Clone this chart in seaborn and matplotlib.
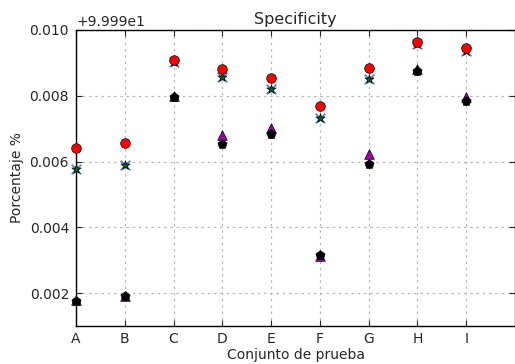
import matplotlib
matplotlib.use("Agg")
import matplotlib.pyplot as plt
import matplotlib.ticker as mticker
import seaborn as sns
import pandas as pd

# Datos (offset 99.99)
conjuntos = ["A", "B", "C", "D", "E", "F", "G", "H", "I"]
base = 99.99
serie_circulo = [0.00640, 0.00655, 0.00910, 0.00882, 0.00855, 0.00768, 0.00885, 0.00965, 0.00945]
serie_x = [0.00578, 0.00588, 0.00903, 0.00858, 0.00820, 0.00733, 0.00850, 0.00958, 0.00935]
serie_estrella = [0.00578, 0.00588, 0.00903, 0.00858, 0.00820, 0.00733, 0.00850, 0.00958, 0.00935]
serie_triangulo = [0.00180, 0.00192, 0.00800, 0.00680, 0.00703, 0.00312, 0.00622, 0.00880, 0.00797]
serie_pentagono = [0.00175, 0.00190, 0.00795, 0.00652, 0.00683, 0.00315, 0.00592, 0.00875, 0.00783]

df = pd.DataFrame({
    "x": range(len(conjuntos)),
    "circulo": [base + v for v in serie_circulo],
    "cruz": [base + v for v in serie_x],
    "estrella": [base + v for v in serie_estrella],
    "triangulo": [base + v for v in serie_triangulo],
    "pentagono": [base + v for v in serie_pentagono],
})

sns.set_style("white")
plt.rcParams["font.family"] = ["DejaVu Sans"]

fig = plt.figure(figsize=(5.15, 3.64), dpi=100)
ax = fig.add_axes([0.1476, 0.1044, 0.8524, 0.8132])

estilos = [
    ("cruz", "x", "#4a78e0", 1.2),
    ("estrella", "*", "#0b5e1a", 0.5),
    ("triangulo", "^", "#a000a8", 0.5),
    ("pentagono", "p", "black", 0.5),
    ("circulo", "o", "red", 0.5),
]
for col, m, c, lw in estilos:
    sns.scatterplot(data=df, x="x", y=col, marker=m, color=c, s=48,
                    edgecolor="black" if m != "x" else None, linewidth=lw,
                    ax=ax, zorder=3, clip_on=False)

ax.set_xlim(0, 9)
ax.set_ylim(base + 0.001, base + 0.010)
ax.set_xticks(range(len(conjuntos)))
ax.set_xticklabels(conjuntos)
ax.set_yticks([base + v for v in [0.002, 0.004, 0.006, 0.008, 0.010]])
fmt = mticker.ScalarFormatter(useOffset=base)
ax.yaxis.set_major_formatter(fmt)

ax.grid(True, color="#b8b8b8", linestyle=(0, (2, 3)), linewidth=0.9)
ax.set_axisbelow(True)
ax.tick_params(axis="x", direction="in", length=4, labelsize=10, pad=4,
               top=True, bottom=True)
ax.tick_params(axis="y", direction="in", length=4, labelsize=10, pad=5,
               left=True, right=True)
for s in ax.spines.values():
    s.set_color("black")
    s.set_linewidth(1.0)

ax.set_title("Specificity", fontsize=11.5, pad=4)
ax.set_xlabel("Conjunto de prueba", fontsize=10, labelpad=2)
ax.set_ylabel("Porcentaje %", fontsize=10)
ax.yaxis.get_offset_text().set_fontsize(10)

fig.savefig("out.png", dpi=100)
